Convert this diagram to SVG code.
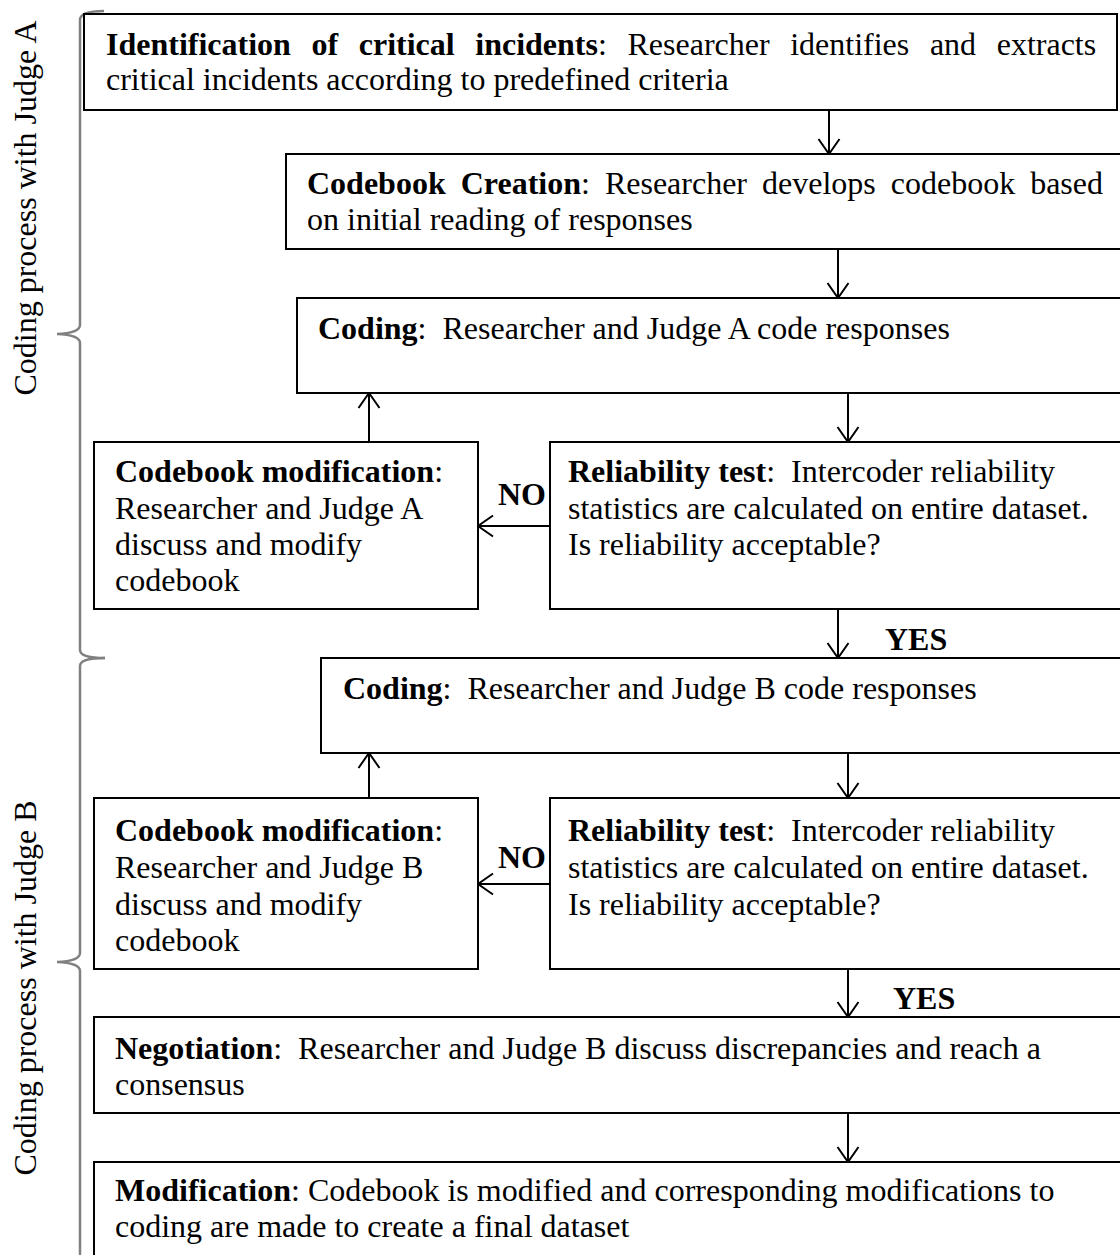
<svg xmlns="http://www.w3.org/2000/svg" width="1120" height="1255" viewBox="0 0 1120 1255">
  <style>
    .box { fill: #fff; stroke: #000; stroke-width: 2; }
    .t { font-family: "Liberation Serif", "Times New Roman", serif; font-size: 32px; fill: #000; }
    .b { font-weight: bold; }
    .edge { stroke: #000; stroke-width: 2; fill: none; marker-end: url(#arrow); }
    .brace { stroke: #808080; stroke-width: 2.5; fill: none; }
  </style>
  <defs>
    <marker id="arrow" viewBox="-17 -12 19 24" refX="0" refY="0" markerWidth="19" markerHeight="24" markerUnits="userSpaceOnUse" orient="auto">
      <path d="M-15,-10.5 L0,0 L-15,10.5" fill="none" stroke="#000" stroke-width="2"/>
    </marker>
  </defs>

  <rect width="1120" height="1255" fill="#fff"/>

  <!-- Braces grouping the two coding phases -->
  <g id="braces">
    <path class="brace" d="M104,11 Q80,11 80,20 L80,325 Q80,333 57,334 Q80,335 80,343 L80,650 Q80,658 105,658"/>
    <path class="brace" d="M105,658 Q80,658 80,666 L80,953 Q80,961 57,962 Q80,963 80,971 L80,1260"/>
    <text class="t" transform="translate(36,208) rotate(-90)" text-anchor="middle">Coding process with Judge A</text>
    <text class="t" transform="translate(36,988) rotate(-90)" text-anchor="middle">Coding process with Judge B</text>
  </g>

  <!-- Connectors -->
  <g id="connectors">
    <line class="edge" x1="829" y1="110" x2="829" y2="154"/>
    <line class="edge" x1="838" y1="249" x2="838" y2="298"/>
    <line class="edge" x1="848" y1="393" x2="848" y2="442"/>
    <line class="edge" x1="369" y1="442" x2="369" y2="393"/>
    <line class="edge" x1="550" y1="526" x2="478" y2="526"/>
    <line class="edge" x1="838" y1="609" x2="838" y2="658"/>
    <line class="edge" x1="848" y1="753" x2="848" y2="798"/>
    <line class="edge" x1="369" y1="798" x2="369" y2="753"/>
    <line class="edge" x1="550" y1="884" x2="478" y2="884"/>
    <line class="edge" x1="848" y1="969" x2="848" y2="1017"/>
    <line class="edge" x1="848" y1="1113" x2="848" y2="1162"/>
    <text class="t b" x="498" y="505">NO</text>
    <text class="t b" x="498" y="868">NO</text>
    <text class="t b" x="885" y="650">YES</text>
    <text class="t b" x="893" y="1009">YES</text>
  </g>

  <g id="identification">
    <rect class="box" x="84" y="14" width="1033" height="96"/>
    <text class="t" x="106" y="55" word-spacing="12.6"><tspan class="b">Identification of critical incidents</tspan>: Researcher identifies and extracts</text>
    <text class="t" x="106" y="90">critical incidents according to predefined criteria</text>
  </g>

  <g id="codebook-creation">
    <rect class="box" x="286" y="154" width="850" height="95"/>
    <text class="t" x="307" y="194" word-spacing="7"><tspan class="b">Codebook Creation</tspan>: Researcher develops codebook based</text>
    <text class="t" x="307" y="230">on initial reading of responses</text>
  </g>

  <g id="coding-a">
    <rect class="box" x="297" y="298" width="840" height="95"/>
    <text class="t" x="318" y="339"><tspan class="b">Coding</tspan>:&#160; Researcher and Judge A code responses</text>
  </g>

  <g id="modification-a">
    <rect class="box" x="94" y="442" width="384" height="167"/>
    <text class="t" x="115" y="482"><tspan class="b">Codebook modification</tspan>:</text>
    <text class="t" x="115" y="519">Researcher and Judge A</text>
    <text class="t" x="115" y="555">discuss and modify</text>
    <text class="t" x="115" y="591">codebook</text>
  </g>

  <g id="reliability-a">
    <rect class="box" x="550" y="442" width="590" height="167"/>
    <text class="t" x="568" y="482"><tspan class="b">Reliability test</tspan>:&#160; Intercoder reliability</text>
    <text class="t" x="568" y="519">statistics are calculated on entire dataset.</text>
    <text class="t" x="568" y="555">Is reliability acceptable?</text>
  </g>

  <g id="coding-b">
    <rect class="box" x="321" y="658" width="820" height="95"/>
    <text class="t" x="343" y="699"><tspan class="b">Coding</tspan>:&#160; Researcher and Judge B code responses</text>
  </g>

  <g id="modification-b">
    <rect class="box" x="94" y="798" width="384" height="171"/>
    <text class="t" x="115" y="841"><tspan class="b">Codebook modification</tspan>:</text>
    <text class="t" x="115" y="878">Researcher and Judge B</text>
    <text class="t" x="115" y="915">discuss and modify</text>
    <text class="t" x="115" y="951">codebook</text>
  </g>

  <g id="reliability-b">
    <rect class="box" x="550" y="798" width="590" height="171"/>
    <text class="t" x="568" y="841"><tspan class="b">Reliability test</tspan>:&#160; Intercoder reliability</text>
    <text class="t" x="568" y="878">statistics are calculated on entire dataset.</text>
    <text class="t" x="568" y="915">Is reliability acceptable?</text>
  </g>

  <g id="negotiation">
    <rect class="box" x="94" y="1017" width="1046" height="96"/>
    <text class="t" x="115" y="1059"><tspan class="b">Negotiation</tspan>:&#160; Researcher and Judge B discuss discrepancies and reach a</text>
    <text class="t" x="115" y="1095">consensus</text>
  </g>

  <g id="final-modification">
    <rect class="box" x="94" y="1162" width="1046" height="110"/>
    <text class="t" x="115" y="1201"><tspan class="b">Modification</tspan>: Codebook is modified and corresponding modifications to</text>
    <text class="t" x="115" y="1237">coding are made to create a final dataset</text>
  </g>
</svg>
